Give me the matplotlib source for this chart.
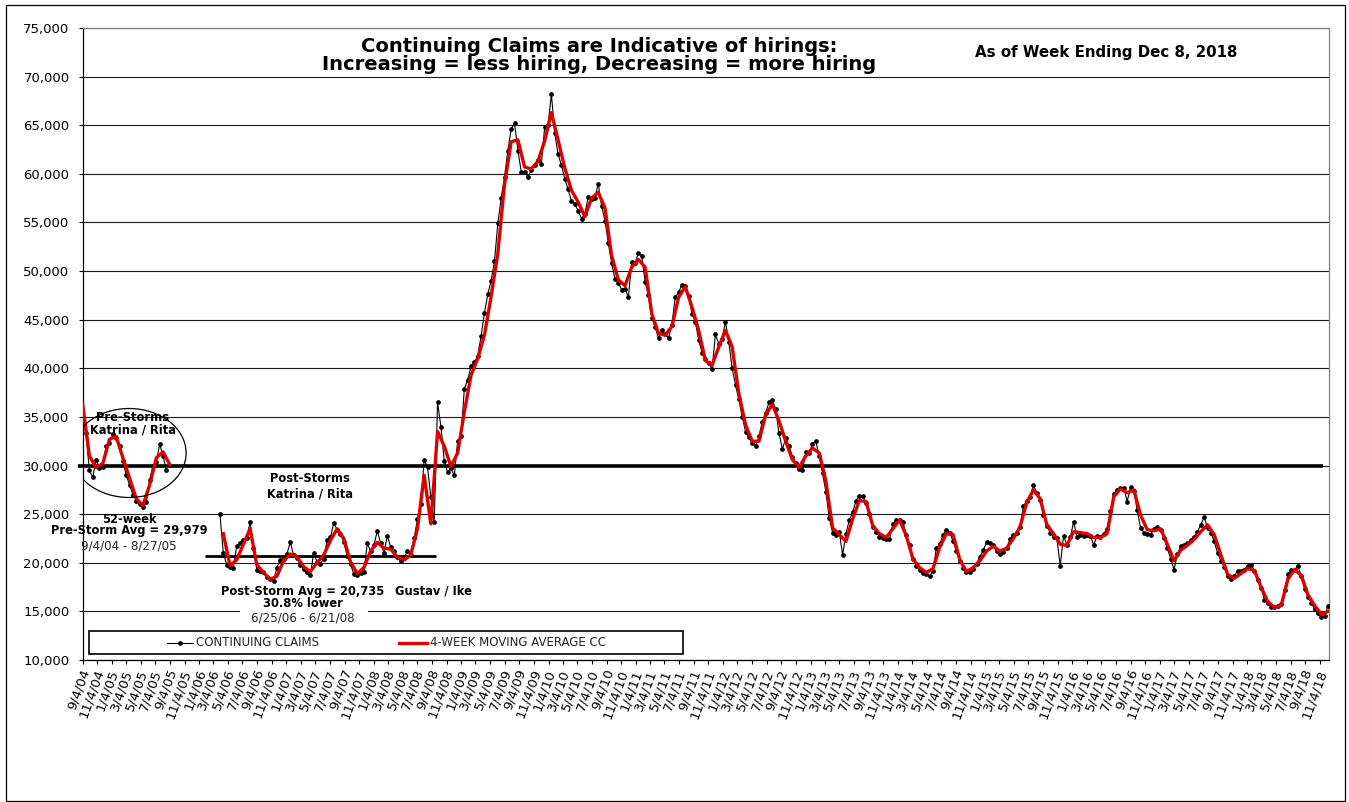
import pandas as pd
import matplotlib
matplotlib.use("Agg")
import matplotlib.pyplot as plt
import matplotlib.dates as mdates
from matplotlib.patches import Ellipse, Rectangle
from matplotlib.lines import Line2D
from matplotlib.ticker import FuncFormatter, MultipleLocator
from matplotlib.transforms import ScaledTranslation


# continuing claims, every 2nd week (thousands)
PRE_STORM_START = "2004-09-04"
POST_STORM_START = "2006-04-01"
PRE_STORM_CC = [
    34.8, 33.3, 29.5, 28.8, 30.6, 29.7, 29.9, 32.0, 32.3, 33.2,
    32.8, 32.0, 30.5, 29.0, 28.0, 27.0, 26.4, 26.0, 25.7, 26.2,
    28.5, 30.0, 30.4, 32.2, 31.0, 29.5,
]
POST_STORM_CC = [
    25.0, 21.0, 19.8, 19.6, 19.5, 21.7, 22.0, 22.3, 22.5, 24.2,
    21.5, 19.3, 19.2, 19.0, 18.5, 18.3, 18.1, 19.5, 20.3, 20.4,
    20.9, 22.1, 20.8, 20.5, 19.8, 19.4, 19.0, 18.7, 21.0, 20.1,
    19.9, 20.4, 22.3, 22.6, 24.1, 23.4, 23.0, 22.1, 20.7, 19.9,
    18.8, 18.7, 18.9, 19.0, 22.0, 21.2, 21.8, 23.3, 22.0, 21.0,
    22.8, 21.6, 21.2, 20.6, 20.2, 20.5, 21.2, 20.8, 22.5, 24.5,
    26.0, 30.6, 29.8, 26.8, 24.2, 36.5, 34.0, 30.5, 29.3, 29.7,
    29.0, 32.5, 33.0, 37.9, 38.8, 40.2, 40.6, 41.3, 43.3, 45.7,
    47.6, 49.0, 51.0, 54.9, 57.5, 59.7, 62.4, 64.6, 65.2, 62.4,
    60.2, 60.2, 59.7, 60.4, 60.9, 61.4, 61.0, 64.8, 65.0, 68.2,
    64.2, 62.0, 60.9, 59.5, 58.4, 57.2, 56.9, 56.2, 55.4, 55.9,
    57.6, 57.4, 57.5, 59.0, 56.7, 55.2, 52.9, 50.8, 49.2, 48.8,
    48.1, 48.2, 47.3, 50.9, 50.8, 51.9, 51.5, 48.9, 47.5, 45.2,
    44.2, 43.1, 43.9, 43.5, 43.1, 44.5, 47.3, 47.8, 48.6, 48.5,
    47.4, 45.6, 44.8, 42.9, 41.6, 41.0, 40.5, 39.9, 43.5, 42.5,
    43.0, 44.8, 42.7, 40.0, 38.3, 36.8, 35.0, 33.5, 32.9, 32.3,
    32.0, 33.0, 34.5, 35.4, 36.5, 36.7, 35.8, 33.3, 31.7, 32.8,
    32.0, 30.9, 30.3, 29.6, 29.5, 31.4, 31.3, 32.2, 32.5, 31.0,
    29.2, 27.3, 24.6, 23.1, 22.9, 23.2, 20.8, 23.0, 24.4, 25.2,
    26.4, 26.9, 26.9, 26.1, 25.0, 23.7, 23.2, 22.7, 22.5, 22.4,
    22.4, 24.0, 24.4, 24.4, 24.2, 22.9, 21.8, 20.4, 19.7, 19.3,
    18.9, 18.8, 18.6, 19.2, 21.5, 21.9, 22.9, 23.4, 23.1, 22.2,
    21.2, 20.2, 19.5, 19.0, 19.1, 19.4, 19.9, 20.6, 21.3, 22.1,
    22.0, 21.8, 21.2, 20.9, 21.1, 21.5, 22.4, 22.9, 23.1, 23.7,
    25.8, 26.4, 26.8, 28.0, 27.2, 26.5, 24.9, 23.8, 23.1, 22.7,
    22.5, 19.7, 22.8, 21.8, 22.6, 24.2, 22.7, 22.9, 22.8, 22.9,
    22.8, 21.8, 22.8, 22.7, 23.0, 23.5, 25.3, 27.1, 27.5, 27.7,
    27.7, 26.3, 27.8, 27.4, 25.4, 23.6, 23.1, 23.0, 22.9, 23.5,
    23.7, 23.4, 22.5, 21.5, 20.4, 19.3, 20.9, 21.7, 21.8, 22.0,
    22.3, 22.7, 23.2, 23.9, 24.7, 23.6, 23.1, 22.2, 21.0, 20.2,
    19.6, 18.6, 18.3, 18.6, 19.2, 19.2, 19.3, 19.7, 19.8, 19.2,
    18.2, 17.4, 16.2, 15.9, 15.5, 15.4, 15.6, 15.8, 17.2, 18.8,
    19.3, 19.3, 19.7, 18.6, 17.3, 16.5, 15.9, 15.2, 14.8, 14.4,
    14.5, 15.6,
]

# 4-week moving average, every 4th week (thousands)
PRE_STORM_MA_START = "2004-09-04"
POST_STORM_MA_START = "2006-04-15"
PRE_STORM_MA = [
    36.3, 31.0, 29.8, 30.2, 32.7, 33.0, 30.8, 28.7, 26.6, 25.9,
    28.0, 30.8, 31.4, 30.1,
]
POST_STORM_MA = [
    23.0, 19.7, 20.3, 21.9, 23.5, 19.8, 19.0, 18.3, 18.6, 20.2,
    20.9, 20.6, 19.6, 19.1, 20.0, 20.8, 22.3, 23.5, 22.5, 20.1,
    18.9, 19.5, 21.2, 22.1, 21.5, 21.4, 20.6, 20.3, 20.8, 23.5,
    29.0, 24.0, 33.5, 32.0, 29.9, 31.3, 35.5, 39.3, 41.0, 43.4,
    47.4, 51.8, 58.9, 63.3, 63.5, 60.7, 60.5, 61.3, 63.4, 66.3,
    63.5, 60.6, 58.3, 57.1, 55.6, 57.5, 58.1, 56.5, 51.6, 49.1,
    48.5, 50.4, 51.2, 50.4, 45.6, 43.6, 43.4, 44.3, 47.3, 48.4,
    46.3, 43.9, 40.8, 40.3, 42.2, 43.9, 42.2, 37.4, 34.2, 32.5,
    32.5, 35.2, 36.3, 34.6, 32.5, 30.6, 29.8, 31.0, 31.8, 31.3,
    28.4, 23.6, 22.9, 22.2, 24.5, 26.4, 26.3, 23.8, 23.0, 22.6,
    23.5, 24.4, 22.8, 20.4, 19.5, 19.0, 19.4, 21.6, 23.0, 22.9,
    20.3, 19.1, 19.5, 20.2, 21.2, 21.7, 21.2, 21.5, 22.5, 23.7,
    26.2, 27.5, 26.6, 23.9, 23.0, 21.9, 21.8, 23.2, 23.1, 23.0,
    22.6, 22.6, 23.0, 26.8, 27.6, 27.2, 27.5, 24.9, 23.4, 23.3,
    23.5, 21.9, 20.2, 21.3, 21.8, 22.4, 23.2, 23.9, 22.9, 20.8,
    18.8, 18.4, 18.9, 19.4, 19.2, 17.5, 16.0, 15.4, 15.6, 18.3,
    19.3, 18.7, 16.7, 15.6, 14.7, 15.0,
]

PRE_STORM_AVG = 29979
POST_STORM_AVG = 20735

W, H = 1349, 802


def fx(px):
    return px / W


def fy(py):
    return 1 - py / H


def main():
    plt.rcParams["font.family"] = ["DejaVu Sans"]

    pre_dates = pd.date_range(PRE_STORM_START, periods=len(PRE_STORM_CC), freq="14D")
    post_dates = pd.date_range(POST_STORM_START, periods=len(POST_STORM_CC), freq="14D")
    pre_ma_dates = pd.date_range(PRE_STORM_MA_START, periods=len(PRE_STORM_MA), freq="28D")
    post_ma_dates = pd.date_range(POST_STORM_MA_START, periods=len(POST_STORM_MA), freq="28D")

    fig = plt.figure(figsize=(W / 100, H / 100), dpi=100)
    ax = fig.add_axes([fx(82.7), fy(660), fx(1329) - fx(82.7), fy(28) - fy(660)])

    # claims + moving average
    cc_style = dict(color="black", lw=0.8, marker="o", ms=2.4, zorder=3)
    ax.plot(pre_dates, [v * 1000 for v in PRE_STORM_CC], **cc_style)
    ax.plot(post_dates, [v * 1000 for v in POST_STORM_CC], **cc_style)
    ma_style = dict(color="#dd0000", lw=2.4, zorder=4, solid_joinstyle="round")
    ax.plot(pre_ma_dates, [v * 1000 for v in PRE_STORM_MA], **ma_style)
    ax.plot(post_ma_dates, [v * 1000 for v in POST_STORM_MA], **ma_style)

    # average lines
    ax.plot(pd.to_datetime(["2004-08-16", "2018-11-17"]), [PRE_STORM_AVG] * 2,
            color="black", lw=2.6, zorder=2, clip_on=False, solid_capstyle="butt")
    ax.plot(pd.to_datetime(["2006-01-28", "2008-09-21"]), [POST_STORM_AVG] * 2,
            color="black", lw=2.0, zorder=2, solid_capstyle="butt")

    # circle round the pre-storm period
    ax.add_patch(Ellipse((mdates.date2num(pd.Timestamp("2005-03-17")), 31290),
                         width=477, height=9150, fill=False, ec="black", lw=0.9, zorder=5))

    # axes
    ax.set_ylim(10000, 75000)
    ax.set_xlim(pd.Timestamp("2004-09-04"), pd.Timestamp("2018-12-12"))
    ax.yaxis.set_major_locator(MultipleLocator(5000))
    ax.yaxis.set_major_formatter(FuncFormatter(lambda v, p: f"{int(v):,}"))
    ax.grid(axis="y", color="#1a1a1a", lw=0.8)
    ax.set_axisbelow(True)

    ticks = [pd.Timestamp(PRE_STORM_START) + pd.DateOffset(months=2 * i) for i in range(86)]
    ax.set_xticks(mdates.date2num(ticks))
    ax.set_xticklabels([f"{d.month}/{d.day}/{d.year % 100:02d}" for d in ticks],
                       rotation=70, ha="right", va="center", rotation_mode="anchor")
    ax.tick_params(axis="x", direction="out", length=3, width=0.8, pad=4, labelsize=9.5)
    ax.tick_params(axis="y", direction="out", length=3, width=0.8, pad=6.5, labelsize=9.5)
    for lbl in ax.get_xticklabels():
        lbl.set_transform(lbl.get_transform() + ScaledTranslation(0.03, 0, fig.dpi_scale_trans))

    for side in ("left", "bottom"):
        ax.spines[side].set_color("black")
        ax.spines[side].set_linewidth(0.9)
    for side in ("top", "right"):
        ax.spines[side].set_color("#808080")
        ax.spines[side].set_linewidth(0.9)

    # annotations
    bold = dict(fontsize=8.3, fontweight="bold", ha="center", va="center", zorder=6)
    plain = dict(fontsize=8.6, ha="center", va="center", zorder=6, color="#222222")
    d = pd.Timestamp
    ax.text(d("2005-04-02"), 34325, "Pre-Storms\nKatrina / Rita", linespacing=0.95, **bold)
    ax.text(d("2007-04-13"), 27900, "Post-Storms\nKatrina / Rita", linespacing=1.25, **bold)
    ax.text(d("2005-03-17"), 24400, "52-week", **bold)
    ax.text(d("2005-03-17"), 23268, f"Pre-Storm Avg = {PRE_STORM_AVG:,}", **bold)
    ax.text(d("2005-03-17"), 21725, "9/4/04 - 8/27/05", **plain)

    ax.add_patch(Rectangle((fx(240), fy(626)), 128 / W, 20 / H, transform=fig.transFigure,
                           fc="white", ec="none", zorder=2.6, clip_on=False))
    ax.text(d("2007-03-14"), 16994, f"Post-Storm Avg = {POST_STORM_AVG:,}", **bold)
    ax.text(d("2007-03-14"), 15862, "30.8% lower", **bold)
    ax.text(d("2007-03-14"), 14320, "6/25/06 - 6/21/08", **plain)
    ax.text(d("2008-09-08"), 17097, "Gustav / Ike", **bold)

    # legend box (drawn by hand to match the Excel layout)
    ax.add_patch(Rectangle((fx(88.7), fy(654.3)), 594 / W, 23.3 / H, transform=fig.transFigure,
                           fc="white", ec="black", lw=1.2, zorder=7, clip_on=False))
    ax.add_line(Line2D([fx(167), fx(193)], [fy(642.5)] * 2, transform=fig.transFigure,
                       color="black", lw=0.8, zorder=8, clip_on=False))
    ax.add_line(Line2D([fx(180)], [fy(642.5)], transform=fig.transFigure, color="black",
                       marker="o", ms=2.4, zorder=8, clip_on=False))
    ax.add_line(Line2D([fx(399), fx(427)], [fy(642.5)] * 2, transform=fig.transFigure,
                       color="#dd0000", lw=2.4, zorder=8, clip_on=False))
    leg_txt = dict(transform=fig.transFigure, fontsize=8.5, va="center", ha="left",
                   color="#222222", zorder=8)
    ax.text(fx(196), fy(642.5), "CONTINUING CLAIMS", **leg_txt)
    ax.text(fx(430), fy(642.5), "4-WEEK MOVING AVERAGE CC", **leg_txt)

    # titles
    fig.text(0.444, fy(47), "Continuing Claims are Indicative of hirings:",
             ha="center", va="center", fontsize=14, fontweight="bold")
    fig.text(0.444, fy(64), "Increasing = less hiring, Decreasing = more hiring",
             ha="center", va="center", fontsize=14, fontweight="bold")
    fig.text(fx(1106.5), fy(53), "As of Week Ending Dec 8, 2018",
             ha="center", va="center", fontsize=10.8, fontweight="bold")

    # outer chart frame
    fig.add_artist(Rectangle((fx(6), fy(801)), (1345 - 6) / W, (801 - 5) / H,
                             transform=fig.transFigure, fill=False, ec="black", lw=0.9))

    fig.savefig("out.png", dpi=100)


if __name__ == "__main__":
    main()
